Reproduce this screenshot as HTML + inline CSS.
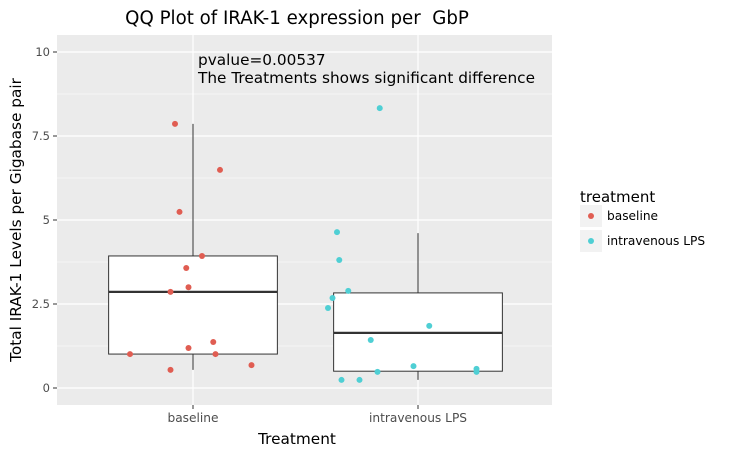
<!DOCTYPE html>
<html><head><meta charset="utf-8"><style>
body{margin:0;background:#fff;font-family:"Liberation Sans","DejaVu Sans",sans-serif}
svg text{font-family:"DejaVu Sans","Liberation Sans",sans-serif}
</style></head><body>
<svg id="c" width="732" height="456" xmlns="http://www.w3.org/2000/svg"></svg>
<script>
const categories=["baseline","intravenous LPS"];
const yTicks=[0,2.5,5,7.5,10];
const yTickLabels=["0","2.5","5","7.5","10"];
const baselineValues=[7.86,6.49,5.24,3.93,3.57,3.0,2.86,1.37,1.19,1.01,1.01,0.68,0.54];
const baselineJitter=[-0.08,0.12,-0.06,0.04,-0.03,-0.02,-0.10,0.09,-0.02,-0.28,0.10,0.26,-0.10];
const lpsValues=[8.33,4.64,3.81,2.89,2.68,2.38,1.85,1.43,0.65,0.48,0.57,0.48,0.24,0.24];
const lpsJitter=[-0.17,-0.36,-0.35,-0.31,-0.38,-0.40,0.05,-0.21,-0.02,-0.18,0.26,0.26,-0.34,-0.26];
const boxStats=[[0.54,1.01,2.86,3.93,7.86],[0.24,0.5,1.64,2.83,4.61]];
const colors=["#e05d52","#4fcfd4"];
const svg=document.getElementById('c');const NS="http://www.w3.org/2000/svg";
function el(t,a,p){const e=document.createElementNS(NS,t);for(const k in a)e.setAttribute(k,a[k]);(p||svg).appendChild(e);return e;}
const px0=57,px1=552,py0=35,py1=405;
const y=v=>388-v*33.6;
const x=i=>193+i*225;
const bw=225;
let e=el('rect',{x:px0,y:py0,width:px1-px0,height:py1-py0,fill:'#ebebeb'});

for(let i=0;i<yTicks.length-1;i++){const m=(yTicks[i]+yTicks[i+1])/2;el('line',{x1:px0,x2:px1,y1:y(m),y2:y(m),stroke:'#fff','stroke-width':0.6});}
yTicks.forEach((t,i)=>{el('line',{x1:px0,x2:px1,y1:y(t),y2:y(t),stroke:'#fff','stroke-width':1.2});
el('line',{x1:53,x2:57,y1:y(t),y2:y(t),stroke:'#333'});
const tx=el('text',{x:50,y:y(t)+4,'text-anchor':'end','font-size':11.5,fill:'#4d4d4d'});tx.textContent=yTickLabels[i];
});
categories.forEach((c,i)=>{el('line',{x1:x(i),x2:x(i),y1:py0,y2:py1,stroke:'#fff','stroke-width':1.2});
el('line',{x1:x(i),x2:x(i),y1:405,y2:409,stroke:'#333'});
const tx=el('text',{x:x(i),y:422,'text-anchor':'middle','font-size':12.2,fill:'#4d4d4d'});tx.textContent=c;

const s=boxStats[i],hw=bw*0.375;
const g=el('g',{});
el('line',{x1:x(i),x2:x(i),y1:y(s[4]),y2:y(s[3]),stroke:'#333'},g);
el('line',{x1:x(i),x2:x(i),y1:y(s[1]),y2:y(s[0]),stroke:'#333'},g);
el('rect',{x:x(i)-hw,y:y(s[3]),width:2*hw,height:y(s[1])-y(s[3]),fill:'#fff',stroke:'#333'},g);
el('line',{x1:x(i)-hw,x2:x(i)+hw,y1:y(s[2]),y2:y(s[2]),stroke:'#333','stroke-width':2.2},g);});
[[baselineValues,baselineJitter],[lpsValues,lpsJitter]].forEach(([vals,jit],i)=>{vals.forEach((v,k)=>{
const p=el('circle',{cx:x(i)+jit[k]*bw,cy:y(v),r:3,fill:colors[i]});
});});
function txt(s,a,name){const t=el('text',a);t.textContent=s;return t;}
txt('QQ Plot of IRAK-1 expression per\u00a0 GbP',{x:297,y:24,'text-anchor':'middle','font-size':18.2,fill:'#000'},'chart-title');
txt('pvalue=0.00537',{x:198,y:65,'font-size':15.3,fill:'#000'},'pvalue-annotation');
txt('The Treatments shows significant difference',{x:198,y:83,'font-size':15.3,fill:'#000'},'significance-annotation');
txt('Treatment',{x:297,y:444,'text-anchor':'middle','font-size':15.3,fill:'#000'},'x-axis-title');
txt('Total IRAK-1 Levels per Gigabase pair',{x:0,y:0,'text-anchor':'middle','font-size':15.3,fill:'#000',transform:'translate(21,220) rotate(-90)'},'y-axis-title');
txt('treatment',{x:580,y:202,'font-size':15,fill:'#000'},'legend-title');
categories.forEach((c,i)=>{const g=el('g',{});
el('rect',{x:580,y:205+i*25,width:22,height:22,fill:'#f2f2f2'},g);
el('circle',{cx:591,cy:216+i*25,r:3,fill:colors[i]},g);
const t=el('text',{x:607,y:220+i*25,'font-size':12.2,fill:'#000'},g);t.textContent=c;});
</script></body></html>
